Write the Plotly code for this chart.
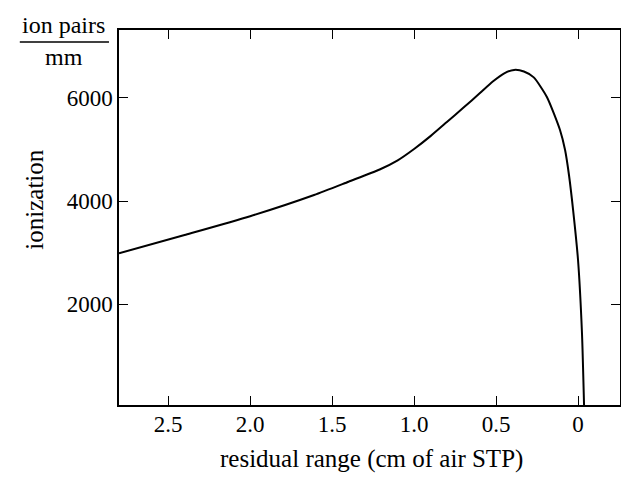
import plotly.graph_objects as go

# Bragg curve: residual range (cm of air) vs ionization
residual_range = [2.80, 2.40, 2.00, 1.61, 1.40, 1.21, 1.10, 1.00, 0.90, 0.80,
                  0.70, 0.60, 0.52, 0.45, 0.39, 0.33, 0.27, 0.19, 0.11, 0.079,
                  0.055, 0.03, 0.00, -0.024, -0.037]
ion_pairs = [2985, 3340, 3705, 4117, 4375, 4612, 4790, 5010, 5260, 5534,
             5810, 6090, 6320, 6480, 6545, 6515, 6400, 6020, 5379, 4990,
             4500, 3825, 2855, 1437, 0]

x_tick_vals = [2.5, 2.0, 1.5, 1.0, 0.5, 0]
x_tick_text = ["2.5", "2.0", "1.5", "1.0", "0.5", "0"]
y_tick_vals = [2000, 4000, 6000]

FONT = "Liberation Serif, Times New Roman, serif"

fig = go.Figure()
fig.add_trace(go.Scatter(
    x=residual_range,
    y=ion_pairs,
    mode="lines",
    line=dict(color="black", width=2, shape="spline", smoothing=0.6),
    showlegend=False,
    hoverinfo="skip",
))

axis_common = dict(
    showline=True, mirror="ticks", linecolor="black", linewidth=1.5,
    ticks="inside", ticklen=9, tickwidth=1.2, tickcolor="black",
    showgrid=False, zeroline=False,
    tickfont=dict(family=FONT, size=23, color="black"),
)

fig.update_xaxes(
    range=[2.8, -0.256], tickvals=x_tick_vals, ticktext=x_tick_text,
    ticklabelstandoff=-2, **axis_common,
)
fig.update_yaxes(
    range=[40, 7320], tickvals=y_tick_vals,
    ticklabelstandoff=0, **axis_common,
)

# page body adds ~8px offset, so margins are shifted to compensate
fig.update_layout(
    width=629, height=477,
    margin=dict(l=111, r=17, t=22, b=80),
    paper_bgcolor="white", plot_bgcolor="white",
    font=dict(family=FONT, color="black"),
    annotations=[
        dict(text="residual range (cm of air STP)", xref="paper", yref="paper",
             x=0.504, y=-0.144, xanchor="center", yanchor="middle", showarrow=False,
             font=dict(size=25)),
        dict(text="ionization", xref="paper", yref="paper",
             x=-0.168, y=0.547, textangle=-90, xanchor="center", yanchor="middle",
             showarrow=False, font=dict(size=25)),
        dict(text="ion pairs", xref="paper", yref="paper",
             x=-0.110, y=1.013, xanchor="center", yanchor="middle", showarrow=False,
             font=dict(size=24)),
        dict(text="mm", xref="paper", yref="paper",
             x=-0.110, y=0.928, xanchor="center", yanchor="middle", showarrow=False,
             font=dict(size=24)),
    ],
    shapes=[
        dict(type="line", xref="paper", yref="paper",
             x0=-0.198, x1=-0.020, y0=0.968, y1=0.968,
             line=dict(color="black", width=1.5)),
    ],
)

fig.write_html("out.html")
